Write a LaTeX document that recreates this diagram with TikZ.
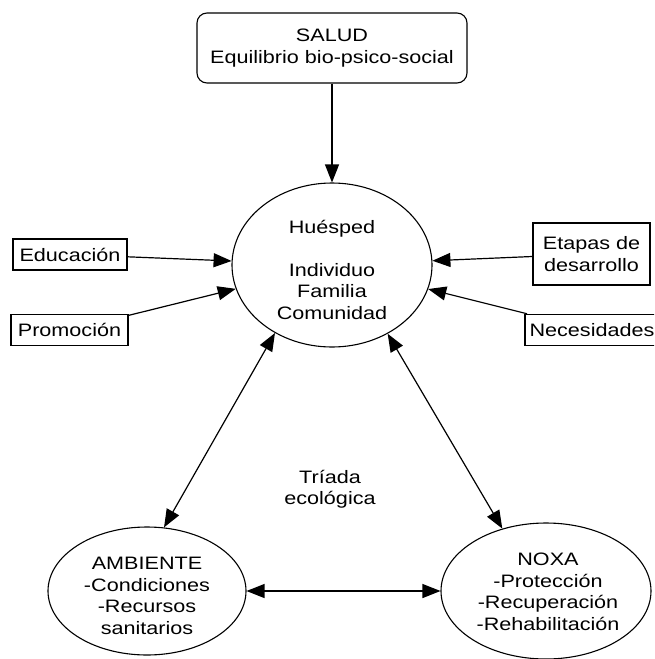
\documentclass[tikz,border=0pt]{standalone}
\usepackage{fontspec}
\setmainfont[FakeStretch=1.2]{Liberation Sans}
\usetikzlibrary{arrows.meta,shapes.geometric}
\begin{document}
\begin{tikzpicture}[x=1pt,y=-1pt,
  font=\fontsize{18}{21.5}\selectfont,
  box/.style={draw,line width=1.5pt,inner xsep=4pt,inner ysep=2pt,minimum height=31pt,align=center},
  oval/.style={draw,ellipse,line width=1.1pt,inner sep=0pt},
  txt/.style={align=center,inner sep=0pt},
  arr/.style={line width=1.2pt,-{Triangle[length=18pt,width=14pt]}},
  darr/.style={line width=1.2pt,{Triangle[length=18pt,width=14pt]}-{Triangle[length=18pt,width=14pt]}}]
\useasboundingbox (0,0) rectangle (654,659);
\clip (0,0) rectangle (654,659);
\node[draw,line width=1.1pt,rounded corners=10pt,minimum width=270pt,minimum height=70pt,align=center] (salud) at (332,48) {SALUD\\Equilibrio bio-psico-social};
\node[oval,minimum width=200pt,minimum height=164pt] (hues) at (332,265) {};
\node[txt] (huestxt) at (332,270) {Huésped\\[21pt]Individuo\\Familia\\Comunidad};
\node[box,minimum width=114pt] (edu) at (70,254.5) {Educación};
\node[box,minimum width=117pt] (pro) at (69.5,330) {Promoción};
\node[box,minimum width=117pt,minimum height=62pt] (eta) at (591.5,254) {Etapas de\\desarrollo};
\node[box,minimum width=134pt] (nec) at (592,330) {Necesidades};
\node[oval,minimum width=198pt,minimum height=128pt] (amb) at (147,591) {};
\node[txt] (ambtxt) at (147,596) {AMBIENTE\\-Condiciones\\-Recursos\\sanitarios};
\node[oval,minimum width=210pt,minimum height=136pt] (nox) at (546,591) {};
\node[txt] (noxtxt) at (548,592) {NOXA\\-Protección\\-Recuperación\\-Rehabilitación};
\node[txt] (tri) at (330,489) {Tríada\\ecológica};
\draw[arr] (salud) -- (hues);
\draw[arr] (edu) -- (hues);
\draw[arr] (pro) -- (hues);
\draw[arr] (eta) -- (hues);
\draw[arr] (nec) -- (hues);
\draw[darr] (hues.230) -- (amb.75);
\draw[darr] (hues.309) -- (nox.125);
\draw[darr] (amb) -- (nox);
\end{tikzpicture}
\end{document}
